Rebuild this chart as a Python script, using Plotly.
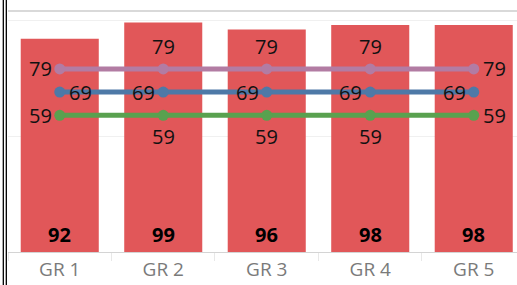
import plotly.graph_objects as go

categories = ["GR 1", "GR 2", "GR 3", "GR 4", "GR 5"]
bar_values = [92, 99, 96, 98, 98]
series_79 = [79, 79, 79, 79, 79]
series_69 = [69, 69, 69, 69, 69]
series_59 = [59, 59, 59, 59, 59]

RED = "#E15759"
PURPLE = "#B27CA3"
BLUE = "#4E79A7"
GREEN = "#59A14F"
FONT = "Open Sans"

# label placement per point
pos_79 = ["left", "above", "above", "above", "right"]
pos_69 = ["right", "left", "left", "left", "left"]
pos_59 = ["left", "below", "below", "below", "right"]

fig = go.Figure()
fig.add_trace(go.Bar(x=categories, y=bar_values, marker=dict(color=RED, line=dict(width=0)),
                     hoverinfo="skip", showlegend=False))

annotations = []

def place(p):
    if p == "left":
        return dict(xanchor="right", yanchor="middle", xshift=-6, yshift=0)
    if p == "right":
        return dict(xanchor="left", yanchor="middle", xshift=7, yshift=0)
    if p == "above":
        return dict(xanchor="center", yanchor="middle", xshift=0, yshift=22)
    return dict(xanchor="center", yanchor="middle", xshift=0, yshift=-21)

for vals, col, posl in [(series_79, PURPLE, pos_79), (series_69, BLUE, pos_69), (series_59, GREEN, pos_59)]:
    fig.add_trace(go.Scatter(x=categories, y=vals, mode="lines+markers",
                             line=dict(color=col, width=5),
                             marker=dict(color=col, size=11),
                             hoverinfo="skip", showlegend=False))
    for c, v, p in zip(categories, vals, posl):
        annotations.append(dict(x=c, y=v, text=str(v), showarrow=False,
                                font=dict(family=FONT, size=20, color="#111111"), **place(p)))

for c, v in zip(categories, bar_values):
    annotations.append(dict(x=c, y=0, text="<b>%d</b>" % v, showarrow=False,
                            xanchor="center", yanchor="middle", yshift=18,
                            font=dict(family=FONT, size=20, color="#000000")))

fig.update_layout(
    width=517, height=285,
    margin=dict(l=8, r=0, t=11, b=33, autoexpand=False),
    paper_bgcolor="white", plot_bgcolor="white",
    bargap=0.246,
    annotations=annotations,
    xaxis=dict(range=[-0.5, 4.418], tickson="boundaries", ticks="outside", ticklen=8,
               tickcolor="#e8e8e8", tickwidth=1, showline=True, linecolor="#d4d4d4", linewidth=1,
               showgrid=False, ticklabelstandoff=0, automargin=False,
               tickfont=dict(family=FONT, size=19, color="#7a7a7a")),
    yaxis=dict(range=[0, 104], dtick=50, showticklabels=False, showgrid=True, automargin=False,
               gridcolor="#f0f0f0", gridwidth=1, zeroline=False, showline=False),
    shapes=[
        dict(type="line", xref="paper", yref="paper", x0=0, x1=1, y0=1, y1=1,
             line=dict(color="#cccccc", width=1.5)),
        dict(type="line", xref="paper", yref="paper", x0=-0.0092, x1=-0.0092, y0=-0.2, y1=1.1,
             line=dict(color="#000000", width=1.3)),
        dict(type="line", xref="paper", yref="paper", x0=-0.0033, x1=-0.0033, y0=-0.2, y1=1.1,
             line=dict(color="#000000", width=1.3)),
    ],
)

fig.write_html("out.html", config={"displayModeBar": False, "staticPlot": True},
               post_script="document.body.style.margin='0px';document.body.style.overflow='hidden';")
